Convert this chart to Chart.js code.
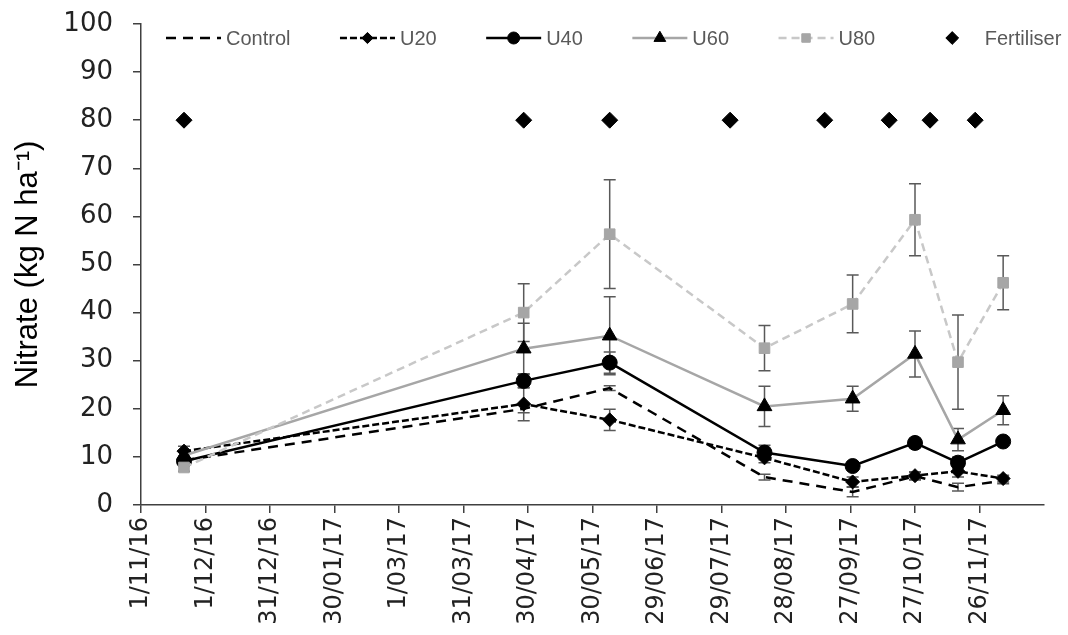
<!DOCTYPE html>
<html>
<head>
<meta charset="utf-8">
<title>Nitrate</title>
<script src="https://cdn.jsdelivr.net/npm/chart.js@4.4.1/dist/chart.umd.min.js"></script>
<style>
  html, body { margin: 0; padding: 0; background: #fff; }
  #wrap { width: 1068px; height: 635px; }
</style>
</head>
<body>
<div id="wrap"><canvas id="graficoNitrato"></canvas></div>
<script>
// sampling dates and fertiliser application dates
const datasAmostra = ['2016-11-21', '2017-04-28', '2017-06-07', '2017-08-18', '2017-09-28', '2017-10-27', '2017-11-16', '2017-12-07'];
const datasFertiliser = ['2016-11-21', '2017-04-28', '2017-06-07', '2017-08-02', '2017-09-15', '2017-10-15', '2017-11-03', '2017-11-24'];
const fertiliserY = [80, 80, 80, 80, 80, 80, 80, 80];

// x axis labels (every 30 days)
const tickLabels = ['1/11/16', '1/12/16', '31/12/16', '30/01/17', '1/03/17', '31/03/17', '30/04/17',
  '30/05/17', '29/06/17', '29/07/17', '28/08/17', '27/09/17', '27/10/17', '26/11/17'];
const yTicks = [0, 10, 20, 30, 40, 50, 60, 70, 80, 90, 100];

// nitrate, kg N/ha, with standard errors
const control = [9.3, 20, 24.3, 5.8, 2.7, 6.0, 3.7, 5.1];
const controlErr = [0.8, 0.8, 0.5, 0.6, 1.0, 0.8, 0.8, 0.7];
const u20 = [11.2, 21, 17.7, 9.8, 4.8, 6.1, 7.0, 5.5];
const u20Err = [1.0, 3.5, 2.2, 1.0, 1.0, 0.8, 1.2, 0.7];
const u40 = [9.1, 25.8, 29.6, 10.9, 8.1, 12.9, 8.8, 13.2];
const u40Err = [0.8, 1.5, 2.2, 1.5, 0.8, 1.0, 1.2, 0.8];
const u60 = [10.3, 32.5, 35.2, 20.5, 22.1, 31.4, 13.6, 19.7];
const u60Err = [1.0, 5.3, 8.1, 4.2, 2.6, 4.8, 2.3, 3.0];
const u80 = [7.8, 40, 56.3, 32.6, 41.8, 59.3, 29.7, 46.2];
const u80Err = [0.8, 6.0, 11.3, 4.7, 6.0, 7.5, 9.8, 5.6];

const inicio = Date.UTC(2016, 10, 1);
const DIA = 86400000;

function diasIso(iso) {
  const [a, m, d] = iso.split('-').map(Number);
  return (Date.UTC(a, m - 1, d) - inicio) / DIA;
}

function diasRotulo(rotulo) {
  const [d, m, a] = rotulo.split('/').map(Number);
  return (Date.UTC(2000 + a, m - 1, d) - inicio) / DIA;
}

function pontos(datas, valores) {
  return datas.map((d, i) => ({ x: diasIso(d), y: valores[i] }));
}

/**
 * Error bars: vertical line with small caps, drawn under the markers.
 */
const barrasErro = {
  id: 'barrasErro',
  beforeDatasetsDraw(chart) {
    const ctx = chart.ctx;
    const escalaY = chart.scales.y;
    chart.data.datasets.forEach((ds, i) => {
      if (!ds.erros) return;
      const meta = chart.getDatasetMeta(i);
      ctx.save();
      ctx.strokeStyle = '#595959';
      ctx.lineWidth = 1.5;
      meta.data.forEach((pt, j) => {
        const v = ds.data[j].y;
        const e = ds.erros[j];
        const topo = escalaY.getPixelForValue(v + e);
        const base = escalaY.getPixelForValue(v - e);
        ctx.beginPath();
        ctx.moveTo(pt.x, topo); ctx.lineTo(pt.x, base);
        ctx.moveTo(pt.x - 6, topo); ctx.lineTo(pt.x + 6, topo);
        ctx.moveTo(pt.x - 6, base); ctx.lineTo(pt.x + 6, base);
        ctx.stroke();
      });
      ctx.restore();
    });
  }
};

/**
 * Legend row inside the plot: line sample with its marker, then the name.
 */
const legendaLinhas = {
  id: 'legendaLinhas',
  afterDraw(chart) {
    const ctx = chart.ctx;
    const y = 38;
    const amostra = 55;
    let x = 166;
    ctx.save();
    ctx.font = '20px "Liberation Sans", Arial, sans-serif';
    ctx.textBaseline = 'middle';
    chart.data.datasets.forEach(ds => {
      if (ds.showLine !== false) {
        ctx.save();
        ctx.strokeStyle = ds.borderColor;
        ctx.lineWidth = ds.borderWidth;
        ctx.setLineDash(ds.borderDash || []);
        ctx.beginPath();
        ctx.moveTo(x, y);
        ctx.lineTo(x + amostra, y);
        ctx.stroke();
        ctx.restore();
      }
      if (ds.pointRadius > 0) {
        ctx.save();
        ctx.fillStyle = ds.pointBackgroundColor;
        ctx.strokeStyle = ds.pointBorderColor;
        ctx.lineWidth = 1;
        Chart.helpers.drawPoint(ctx, {
          pointStyle: ds.pointStyle,
          radius: ds.pointRadius * 0.8,
          rotation: 0,
          borderWidth: 1
        }, x + amostra / 2, y);
        ctx.restore();
      }
      ctx.fillStyle = '#595959';
      ctx.fillText(ds.label, x + amostra + 5, y + 1);
      x += amostra + 5 + ctx.measureText(ds.label).width + 49.5;
    });
    ctx.restore();
  }
};

document.addEventListener('DOMContentLoaded', function () {
  const ctx = document.getElementById('graficoNitrato');
  const ticksX = tickLabels.map(diasRotulo);

  const base = { showLine: true, borderWidth: 2.5, pointBorderWidth: 1, tension: 0 };

  new Chart(ctx, {
    type: 'line',
    data: {
      datasets: [
        {
          ...base, label: 'Control', data: pontos(datasAmostra, control), erros: controlErr,
          borderColor: '#000', borderDash: [10, 7], pointRadius: 0,
          pointBackgroundColor: '#000', pointBorderColor: '#000', order: 5
        },
        {
          ...base, label: 'U20', data: pontos(datasAmostra, u20), erros: u20Err,
          borderColor: '#000', borderDash: [7, 3], pointStyle: 'rectRot', pointRadius: 7,
          pointBackgroundColor: '#000', pointBorderColor: '#000', order: 4
        },
        {
          ...base, label: 'U40', data: pontos(datasAmostra, u40), erros: u40Err,
          borderColor: '#000', pointStyle: 'circle', pointRadius: 7.5,
          pointBackgroundColor: '#000', pointBorderColor: '#000', order: 3
        },
        {
          ...base, label: 'U60', data: pontos(datasAmostra, u60), erros: u60Err,
          borderColor: '#a6a6a6', pointStyle: 'triangle', pointRadius: 8.5,
          pointBackgroundColor: '#000', pointBorderColor: '#000', order: 2
        },
        {
          ...base, label: 'U80', data: pontos(datasAmostra, u80), erros: u80Err,
          borderColor: '#c8c8c8', borderDash: [8, 5], pointStyle: 'rect', pointRadius: 7.5,
          pointBackgroundColor: '#a6a6a6', pointBorderColor: '#a6a6a6', order: 1
        },
        {
          label: 'Fertiliser', data: pontos(datasFertiliser, fertiliserY), showLine: false,
          borderColor: '#000', borderWidth: 0, pointStyle: 'rectRot', pointRadius: 8,
          pointBackgroundColor: '#000', pointBorderColor: '#000', pointBorderWidth: 1, order: 0
        }
      ]
    },
    options: {
      responsive: true,
      maintainAspectRatio: false,
      animation: false,
      layout: { padding: { top: 24, right: 24, left: 0, bottom: 0 } },
      plugins: {
        legend: { display: false },
        tooltip: { enabled: false }
      },
      scales: {
        x: {
          type: 'linear',
          min: 0,
          max: 420,
          afterBuildTicks: scale => { scale.ticks = ticksX.map(v => ({ value: v })); },
          afterFit: scale => { scale.height = 130; },
          grid: { drawOnChartArea: false, drawTicks: true, tickLength: 8, color: '#404040', lineWidth: 1.5 },
          border: { color: '#404040', width: 1.5 },
          ticks: {
            autoSkip: false,
            maxRotation: 90,
            minRotation: 90,
            padding: 4,
            color: '#222',
            font: { family: '"DejaVu Sans", sans-serif', size: 24 },
            callback: (v) => tickLabels[ticksX.indexOf(v)]
          }
        },
        y: {
          min: 0,
          max: 100,
          afterBuildTicks: scale => { scale.ticks = yTicks.map(v => ({ value: v })); },
          afterFit: scale => { scale.width = 141; scale.paddingTop = 0; },
          grid: { drawOnChartArea: false, drawTicks: true, tickLength: 8, color: '#404040', lineWidth: 1.5 },
          border: { color: '#404040', width: 1.5 },
          ticks: {
            padding: 20,
            color: '#222',
            font: { family: '"DejaVu Sans", sans-serif', size: 26 }
          },
          title: {
            display: true,
            text: 'Nitrate (kg N ha⁻¹)',
            color: '#000',
            padding: { top: 10, bottom: 0 },
            font: { family: '"Liberation Sans", Arial, sans-serif', size: 31 }
          }
        }
      }
    },
    plugins: [barrasErro, legendaLinhas]
  });
});
</script>
</body>
</html>
